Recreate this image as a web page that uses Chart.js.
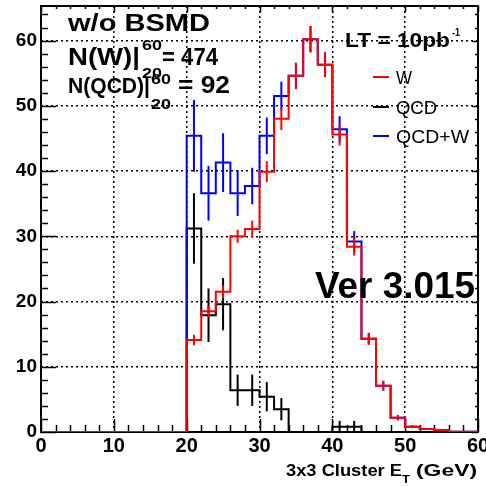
<!DOCTYPE html>
<html>
<head>
<meta charset="utf-8">
<title>3x3 Cluster ET</title>
<script src="https://cdn.jsdelivr.net/npm/chart.js@4.4.0/dist/chart.umd.min.js"></script>
<style>
html, body { margin: 0; padding: 0; background: #fff; }
</style>
</head>
<body>
<canvas id="c" width="486" height="486"></canvas>
<script>
// 2 GeV bins, lower edges; everything below 20 GeV is empty
var binLow = [20, 22, 24, 26, 28, 30, 32, 34, 36, 38, 40, 42, 44, 46, 48, 50, 52, 54, 56, 58];
var binWidth = 2;
var histStart = 0;

var wVals   = [14.1, 18.5, 21.5, 30.0, 31.1, 39.9, 48.0, 54.6, 60.2, 56.3, 45.6, 28.4, 14.3, 7.1, 2.2, 0.8, 0.45, 0.25, 0.05, 0.05];
var wErr    = [0.8, 0.9, 1.0, 1.0, 1.3, 1.6, 1.7, 2.0, 2.0, 1.9, 1.7, 1.35, 0.9, 0.75, 0.4, 0.2, 0.15, 0.1, 0.05, 0.05];
var qcdVals = [31.2, 17.9, 19.6, 6.4, 6.4, 5.4, 3.5, 0, 0, 0, 0.8, 0.8, 0, 0, 0, 0, 0, 0, 0, 0];
var qcdErr  = [5.4, 4.1, 4.0, 2.4, 2.4, 2.25, 1.7, 0, 0, 0, 0.9, 0.9, 0, 0, 0, 0, 0, 0, 0, 0];
var sumVals = [45.4, 36.6, 41.3, 36.6, 37.7, 45.4, 51.5, 54.6, 60.2, 56.3, 46.4, 29.2, 14.3, 7.1, 2.2, 0.8, 0.45, 0.25, 0.05, 0.05];
var sumErr  = [5.5, 4.2, 4.5, 3.5, 2.8, 2.8, 2.2, 2.0, 2.0, 1.9, 2.0, 1.6, 0.9, 0.75, 0.4, 0.2, 0.15, 0.1, 0.05, 0.05];

var xTicks = [0, 10, 20, 30, 40, 50, 60];
var yTicks = [0, 10, 20, 30, 40, 50, 60];

function histPoints(vals) {
  var pts = [{ x: histStart, y: 0 }];
  for (var i = 0; i < binLow.length; i++) pts.push({ x: binLow[i], y: vals[i] });
  pts.push({ x: binLow[binLow.length - 1] + binWidth, y: vals[vals.length - 1] });
  return pts;
}

function histSet(label, vals, errs, color) {
  return {
    label: label,
    data: histPoints(vals),
    errs: errs,
    borderColor: color,
    backgroundColor: color,
    borderWidth: 2,
    stepped: true,
    pointRadius: 0,
    fill: false
  };
}

var FONT = '"Liberation Sans", Arial, sans-serif';

// draws text, optionally squeezed/stretched to a given width; returns the end x
function txt(ctx, s, x, y, size, bold, w) {
  ctx.save();
  ctx.font = (bold ? 'bold ' : '') + size + 'px ' + FONT;
  ctx.textAlign = 'left';
  ctx.textBaseline = 'alphabetic';
  var m = ctx.measureText(s).width;
  ctx.translate(x, y);
  if (w) ctx.scale(w / m, 1);
  ctx.fillStyle = '#000';
  ctx.fillText(s, 0, 0);
  ctx.restore();
  return x + (w || m);
}

// error bars at bin centres, drawn right after each histogram
var errorBars = {
  id: 'errorBars',
  afterDatasetDraw: function(chart, args) {
    var ds = chart.data.datasets[args.index];
    var xs = chart.scales.x, ys = chart.scales.y, ctx = chart.ctx;
    var vals = ds.data;
    ctx.save();
    ctx.strokeStyle = ds.borderColor;
    ctx.lineWidth = 2;
    for (var i = 0; i < binLow.length; i++) {
      var v = vals[i + 1].y, e = ds.errs[i];
      if (!v) continue;
      var px = xs.getPixelForValue(binLow[i] + binWidth / 2);
      ctx.beginPath();
      ctx.moveTo(px, ys.getPixelForValue(v - e));
      ctx.lineTo(px, ys.getPixelForValue(v + e));
      ctx.stroke();
    }
    ctx.restore();
  }
};

// ROOT-like frame with inward ticks
var frame = {
  id: 'frame',
  beforeDatasetsDraw: function(chart) {
    var a = chart.chartArea, ctx = chart.ctx;
    var xs = chart.scales.x, ys = chart.scales.y;
    ctx.save();
    ctx.strokeStyle = '#000';
    ctx.lineWidth = 1.5;
    ctx.beginPath();
    for (var xv = 0; xv <= 60; xv += 2) {
      var px = Math.round(xs.getPixelForValue(xv)) + 0.5;
      var len = xv % 10 === 0 ? 13 : 7;
      ctx.moveTo(px, a.bottom); ctx.lineTo(px, a.bottom - len);
      ctx.moveTo(px, a.top); ctx.lineTo(px, a.top + (xv % 10 === 0 ? 6 : 3));
    }
    for (var yv = 0; yv <= 64; yv += 2) {
      var py = Math.round(ys.getPixelForValue(yv)) + 0.5;
      var l2 = yv % 10 === 0 ? 15 : 7;
      ctx.moveTo(a.left, py); ctx.lineTo(a.left + l2, py);
      ctx.moveTo(a.right, py); ctx.lineTo(a.right - (yv % 10 === 0 ? 6 : 3), py);
    }
    ctx.stroke();
    ctx.lineWidth = 2;
    ctx.strokeRect(a.left, a.top, a.right - a.left, a.bottom - a.top);
    ctx.restore();
  }
};

var labels = {
  id: 'labels',
  afterDraw: function(chart) {
    var ctx = chart.ctx;
    // top-left block
    txt(ctx, 'w/o BSMD', 68, 31, 24, true, 142);
    txt(ctx, 'N(W)|', 68, 65, 23, true, 72);
    txt(ctx, '60', 142, 50, 15, true, 20);
    txt(ctx, '20', 142, 78, 15, true, 20);
    txt(ctx, '= 474', 162, 65, 23, true, 56);
    txt(ctx, 'N(QCD)|', 68, 93, 22, true, 82);
    txt(ctx, '60', 151, 84, 15, true, 20);
    txt(ctx, '20', 151, 109, 15, true, 20);
    txt(ctx, '= 92', 178, 93, 23, true, 52);
    // luminosity
    txt(ctx, 'LT = 10pb', 345, 47, 21, true, 105);
    txt(ctx, '-1', 452, 36, 11, true, 8);
    // version tag
    txt(ctx, 'Ver 3.015', 315, 298, 37, true, 160);
    // legend
    var leg = [['W', '#ff0000', 77, 16], ['QCD', '#000000', 107, 41], ['QCD+W', '#0000ff', 136, 73]];
    ctx.save();
    ctx.lineWidth = 2;
    leg.forEach(function(l) {
      ctx.strokeStyle = l[1];
      ctx.beginPath();
      ctx.moveTo(373, l[2]); ctx.lineTo(389, l[2]);
      ctx.stroke();
      txt(ctx, l[0], 396, l[2] + 6.5, 18, false, l[3]);
    });
    ctx.restore();
    // x axis title
    txt(ctx, '3x3 Cluster E', 286, 476, 17, true, 116);
    txt(ctx, 'T', 402, 483, 11, true, 8);
    txt(ctx, '(GeV)', 416, 476, 17, true, 61);
  }
};

var gridColor = function(c) {
  if (!c.tick) return 'rgba(0,0,0,0)';
  return (c.tick.value === 0 || c.tick.value === 60 && c.scale.axis === 'x') ? 'rgba(0,0,0,0)' : '#000';
};

// first dataset is drawn on top: W over QCD+W over QCD
new Chart(document.getElementById('c'), {
  type: 'line',
  data: {
    datasets: [
      histSet('W', wVals, wErr, '#ff0000'),
      histSet('QCD+W', sumVals, sumErr, '#0000ff'),
      histSet('QCD', qcdVals, qcdErr, '#000000')
    ]
  },
  options: {
    responsive: false,
    animation: false,
    layout: { padding: { left: 0, right: 8, top: 6, bottom: 0 } },
    plugins: { legend: { display: false }, tooltip: { enabled: false } },
    scales: {
      x: {
        type: 'linear', min: 0, max: 60,
        afterBuildTicks: function(s) { s.ticks = xTicks.map(function(v) { return { value: v }; }); },
        afterFit: function(s) { s.height = 54; s.paddingLeft = 0; s.paddingRight = 0; },
        grid: { color: gridColor, lineWidth: 1.5, drawTicks: false },
        border: { display: false, dash: [2, 3] },
        ticks: { autoSkip: false, maxRotation: 0, padding: 2, color: '#000',
                 font: { family: FONT, size: 20, weight: 'bold' } }
      },
      y: {
        type: 'linear', min: 0, max: 65.3,
        afterBuildTicks: function(s) { s.ticks = yTicks.map(function(v) { return { value: v }; }); },
        afterFit: function(s) { s.width = 41; s.paddingTop = 0; s.paddingBottom = 0; },
        grid: { color: gridColor, lineWidth: 1.5, drawTicks: false },
        border: { display: false, dash: [2, 3] },
        ticks: { padding: 4, color: '#000',
                 font: { family: FONT, size: 19, weight: 'bold' } }
      }
    }
  },
  plugins: [errorBars, frame, labels]
});
</script>
</body>
</html>
